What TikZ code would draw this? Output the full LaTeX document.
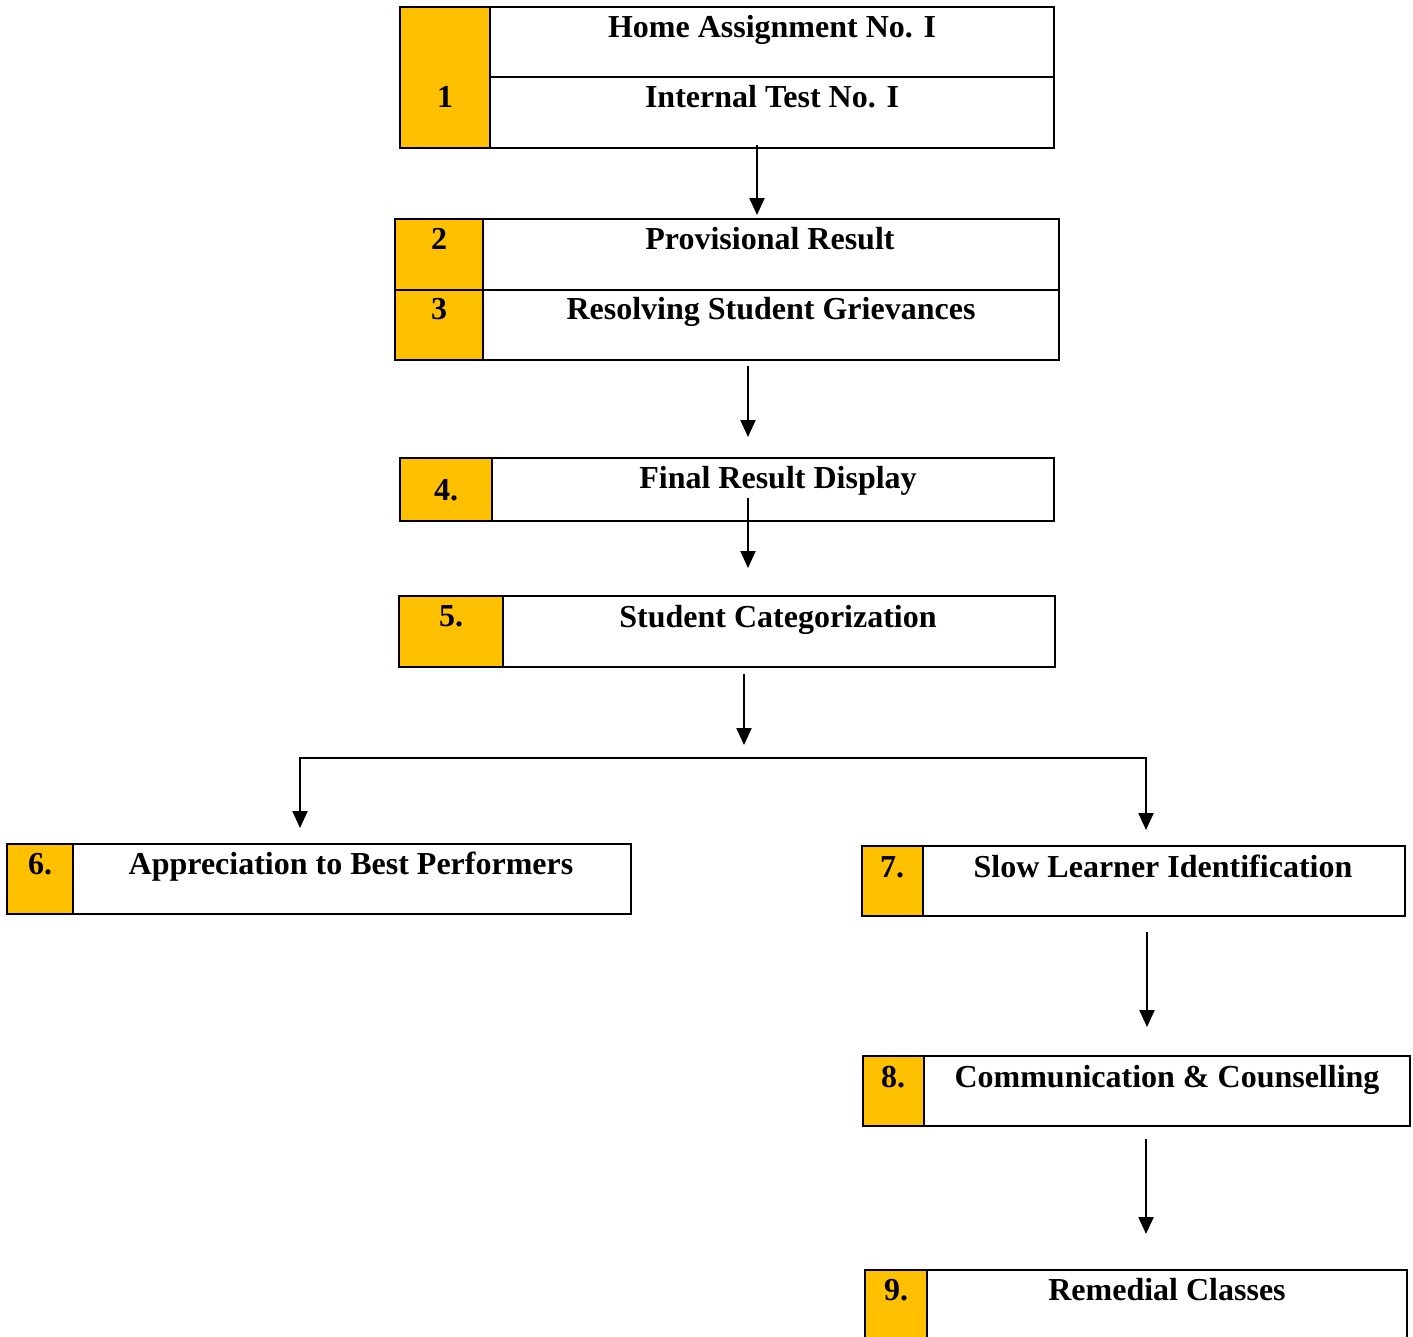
\documentclass[tikz,border=0pt]{standalone}
\usepackage{fontspec}
\setmainfont{Liberation Serif}
\usepackage{tikz}
\usetikzlibrary{arrows.meta}
\definecolor{cellgold}{HTML}{FFC000}
\tikzstyle{numbox} = [rectangle, draw=black, fill=cellgold, line width=2.4pt, inner sep=0pt, outer sep=0pt, anchor=north west]
\tikzstyle{textbox} = [rectangle, draw=black, fill=white, line width=2.4pt, inner sep=0pt, outer sep=0pt, anchor=north west]
\tikzstyle{lbl} = [font=\bfseries\fontsize{32}{38}\selectfont, anchor=base, inner sep=0pt]
\tikzstyle{arrow} = [line width=2.2pt, -{Triangle[width=15pt,length=17pt]}]

\begin{document}
\begin{tikzpicture}[x=1pt, y=-1pt]
		\useasboundingbox (0,0) rectangle (1413,1336);
		% cells
		\node[numbox, minimum width=90pt, minimum height=141pt] (n1) at (400,7) {};
		\node[textbox, minimum width=564pt, minimum height=70pt] (t1a) at (490,7) {};
		\node[textbox, minimum width=564pt, minimum height=71pt] (t1b) at (490,77) {};
		\node[numbox, minimum width=88pt, minimum height=71pt] (n2) at (395,219) {};
		\node[textbox, minimum width=576pt, minimum height=71pt] (t2) at (483,219) {};
		\node[numbox, minimum width=88pt, minimum height=70pt] (n3) at (395,290) {};
		\node[textbox, minimum width=576pt, minimum height=70pt] (t3) at (483,290) {};
		\node[numbox, minimum width=92pt, minimum height=63pt] (n4) at (400,458) {};
		\node[textbox, minimum width=562pt, minimum height=63pt] (t4) at (492,458) {};
		\node[numbox, minimum width=104pt, minimum height=71pt] (n5) at (399,596) {};
		\node[textbox, minimum width=552pt, minimum height=71pt] (t5) at (503,596) {};
		\node[numbox, minimum width=66pt, minimum height=70pt] (n6) at (7,844) {};
		\node[textbox, minimum width=558pt, minimum height=70pt] (t6) at (73,844) {};
		\node[numbox, minimum width=61pt, minimum height=70pt] (n7) at (862,846) {};
		\node[textbox, minimum width=482pt, minimum height=70pt] (t7) at (923,846) {};
		\node[numbox, minimum width=61pt, minimum height=70pt] (n8) at (863,1056) {};
		\node[textbox, minimum width=486pt, minimum height=70pt] (t8) at (924,1056) {};
		\node[numbox, minimum width=62pt, minimum height=75pt] (n9) at (865,1270) {};
		\node[textbox, minimum width=480pt, minimum height=75pt] (t9) at (927,1270) {};
		% texts
		\node[lbl] (l1) at (445,107) {1};
		\node[lbl] (l1a) at (772,37) {Home Assignment No. I};
		\node[lbl] (l1b) at (772,107) {Internal Test No. I};
		\node[lbl] (l2) at (439,249) {2};
		\node[lbl] (l2a) at (770,249) {Provisional Result};
		\node[lbl] (l3) at (439,319) {3};
		\node[lbl] (l3a) at (771,319) {Resolving Student Grievances};
		\node[lbl] (l4) at (446,500) {4.};
		\node[lbl] (l4a) at (778,488) {Final Result Display};
		\node[lbl] (l5) at (451,626) {5.};
		\node[lbl] (l5a) at (778,627) {Student Categorization};
		\node[lbl] (l6) at (40,874) {6.};
		\node[lbl] (l6a) at (351,874) {Appreciation to Best Performers};
		\node[lbl] (l7) at (892,877) {7.};
		\node[lbl] (l7a) at (1163,877) {Slow Learner Identification};
		\node[lbl] (l8) at (893,1087) {8.};
		\node[lbl] (l8a) at (1167,1087) {Communication \& Counselling};
		\node[lbl] (l9) at (896,1300) {9.};
		\node[lbl] (l9a) at (1167,1300) {Remedial Classes};
		% connectors
		\coordinate (catEnd) at (744,745);
		\coordinate (forkL) at (300,758);
		\coordinate (forkR) at (1146,758);
		\draw[arrow] ([xshift=-15pt,yshift=3pt]t1b.south) -- ([xshift=-14pt,yshift=4pt]t2.north);
		\draw[arrow] ([xshift=-23pt,yshift=-6pt]t3.south) -- ([xshift=-25pt,yshift=21pt]t4.north);
		\draw[arrow] ([xshift=-25pt,yshift=23pt]t4.south) -- ([xshift=-31pt,yshift=28pt]t5.north);
		\draw[arrow] ([xshift=-35pt,yshift=-7pt]t5.south) -- (catEnd);
		\draw[arrow, {Triangle[width=15pt,length=17pt]}-{Triangle[width=15pt,length=17pt]}, shorten <=16pt, shorten >=16pt] (t6.north -| forkL) -- (forkL) -- (forkR) -- (forkR |- t7.north);
		\draw[arrow] ([xshift=-17pt,yshift=-16pt]t7.south) -- ([xshift=-20pt,yshift=29pt]t8.north);
		\draw[arrow] ([xshift=-21pt,yshift=-13pt]t8.south) -- ([xshift=-21pt,yshift=36pt]t9.north);
	\end{tikzpicture}
\end{document}
